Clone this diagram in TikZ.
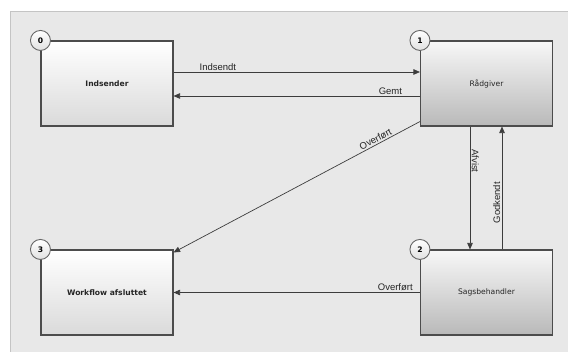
\documentclass[tikz,border=0pt]{standalone}
\usepackage{fontspec}
\setmainfont{Liberation Sans}
\newfontfamily\boxfont{DejaVu Sans}
\usetikzlibrary{arrows.meta}
\definecolor{panel}{HTML}{E8E8E8}
\definecolor{panelborder}{HTML}{C4C4C4}
\definecolor{boxborder}{HTML}{4C4C4C}
\definecolor{lightbot}{HTML}{DADADA}
\definecolor{darkbot}{HTML}{B9B9B9}
\definecolor{linecol}{HTML}{3C3C3C}
\tikzset{
  statebox/.style={draw=boxborder, line width=1.1pt, minimum width=132pt, minimum height=85pt, inner sep=0pt, font=\boxfont\fontsize{7.6}{9}\selectfont, text=black!85},
  lightbox/.style={statebox, top color=white, bottom color=lightbot, font=\boxfont\bfseries\fontsize{7.6}{9}\selectfont},
  darkbox/.style={statebox, top color=white!97!black, bottom color=darkbot},
  badge/.style={circle, draw=black!60, line width=0.9pt, top color=white, bottom color=black!12, minimum size=20pt, inner sep=0pt, font=\boxfont\bfseries\fontsize{7.6}{9}\selectfont},
  arr/.style={draw=linecol, line width=0.7pt, -{Triangle[length=6.5pt,width=5.5pt]}},
  lab/.style={font=\fontsize{9.5}{11}\selectfont, text=black!85, inner sep=1.5pt}
}
\begin{document}
\begin{tikzpicture}[x=1pt,y=-1pt]
\useasboundingbox (0,0) rectangle (568,352);
\fill[white] (0,0) rectangle (568,352);
\draw[fill=panel, draw=panelborder, line width=1pt] (10,12) rectangle (572,356);

\node[lightbox] (ind) at (107,83.5) {Indsender};
\node[darkbox] (rad) at (486.5,83.5) {Rådgiver};
\node[lightbox] (wf) at (107,292.5) {Workflow afsluttet};
\node[darkbox] (sag) at (486.5,292.5) {Sagsbehandler};

\node[badge] (b0) at (ind.north west) {0};
\node[badge] (b1) at (rad.north west) {1};
\node[badge] (b3) at (wf.north west) {3};
\node[badge] (b2) at (sag.north west) {2};

\draw[arr] ([yshift=11.5pt]ind.east) -- node[lab, above, pos=0.18] {Indsendt} ([yshift=11.5pt]rad.west);
\draw[arr] ([yshift=-12.5pt]rad.west) -- node[lab, above, pos=0.12] {Gemt} ([yshift=-12.5pt]ind.east);
\draw[arr] ([yshift=5pt]rad.south west) -- node[lab, above, sloped, pos=0.17] {Overført} ([yshift=-3pt]wf.north east);
\draw[arr] ([xshift=-16.5pt]rad.south) -- node[lab, above, sloped, pos=0.28] {Afvist} ([xshift=-16.5pt]sag.north);
\draw[arr] ([xshift=15.5pt]sag.north) -- node[lab, above, sloped, pos=0.38] {Godkendt} ([xshift=15.5pt]rad.south);
\draw[arr] (sag.west) -- node[lab, above, pos=0.1] {Overført} (wf.east);
\end{tikzpicture}
\end{document}
